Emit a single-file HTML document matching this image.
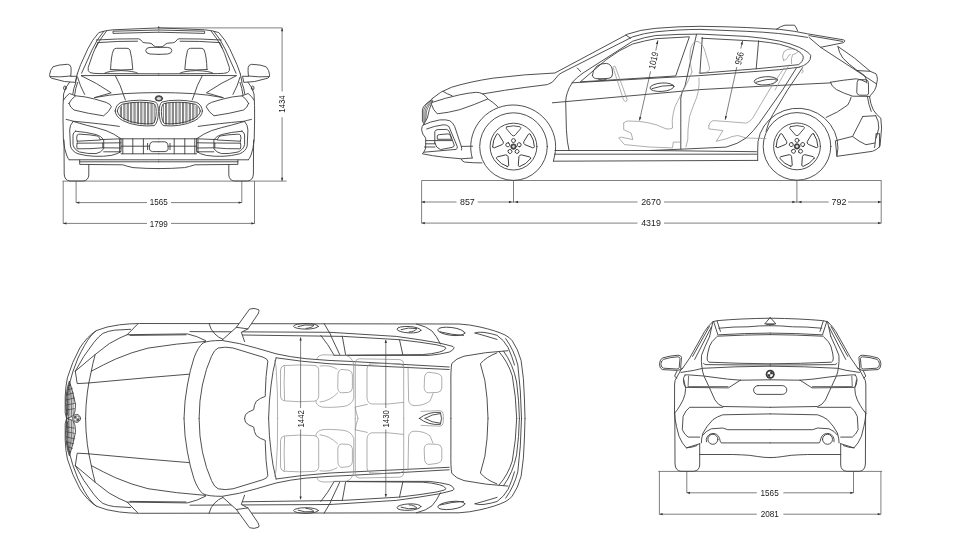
<!DOCTYPE html>
<html><head><meta charset="utf-8"><title>Dimensions</title>
<style>
html,body{margin:0;padding:0;background:#fff;}
body{width:967px;height:546px;overflow:hidden;font-family:"Liberation Sans",sans-serif;}
svg{display:block;will-change:transform;-webkit-font-smoothing:antialiased}
.l{fill:none;stroke:#3c3c3c;stroke-width:.9;stroke-linecap:round;stroke-linejoin:round}
.t{fill:none;stroke:#333;stroke-width:.65;stroke-linecap:round;stroke-linejoin:round}
.g{fill:none;stroke:#8c8c8c;stroke-width:.7;stroke-linecap:round;stroke-linejoin:round}
.d{fill:none;stroke:#4a4a4a;stroke-width:.7}
.a{fill:#333;stroke:none}
text{font-family:"Liberation Sans",sans-serif;font-size:9.3px;fill:#222;text-anchor:middle}
</style></head><body>
<svg width="967" height="546" viewBox="0 0 967 546">
<rect width="967" height="546" fill="#fff"/>
<defs>
<!-- ===== FRONT VIEW left half (mirrored about x=158.8) ===== -->
<g id="fh">
<path class="l" d="M158.8 27.9 L113 29.8 Q105 30.4 98.8 32.6 Q92 40 88 48.5 L80.6 64.7 L77.3 73.8"/>
<path class="l" d="M103.7 31.4 Q97 39 92 50 L81.6 73.2"/>
<path class="l" d="M106.5 31 Q100 39 95.5 48"/>
<path class="l" d="M158.8 30 L113 31.2 L113 33.4 L158.8 32.2"/>
<path class="l" d="M96.3 40 Q118 38.6 138.6 38.8 Q140.5 39 141.5 41 Q142.5 42.6 145 42.8 L150 43.2 Q152.5 43.6 153.2 45.4 Q154.5 47 158.8 47"/>
<path class="l" d="M97.8 42.6 Q118 41 137.5 41.2 M97.8 42.6 Q93 52 88.2 67.5 Q87.5 71.5 90 72.6 Q93 73.6 100 73.6 L158.8 73.8"/>
<path class="l" d="M158.8 47.3 L150 47.4 Q146 47.6 145.7 50.5 Q146 53.6 150 54 L158.8 54.4"/>
<path class="l" d="M110.6 69.5 Q111 56 113.5 50 Q114 48.4 116.5 48.3 L127 48.3 Q129.3 48.4 130 50.2 Q132 57 132.8 69.5 Q122 70.4 110.6 69.5Z"/>
<path class="l" d="M104.6 73.2 Q108 71 121 70.6 Q134 71 137.7 73.2"/>
<path class="l" d="M81.4 75.6 L158.8 75.4"/>
<!-- body side -->
<path class="l" d="M77.3 73.8 L75.6 82.2 M69.6 82.2 Q64.6 88 63.6 94 Q62.8 104 63 120 L63.4 140 Q64.5 150 66.6 155 Q68 159 69.2 159.8"/>
<ellipse class="l" cx="64.9" cy="88" rx="1.3" ry="2"/>
<path class="l" d="M75.8 82.6 Q73.5 88 72.8 94 M77.6 82.4 Q75.5 88 74.6 95"/>
<path class="l" d="M77.5 77 Q80 86 84.6 94.4"/>
<!-- hood -->
<path class="l" d="M81.4 75.8 Q97 83 111.2 92.8 L94.6 97.6"/>
<path class="l" d="M115.3 75.6 Q121 86 123 93.5 L125.4 100"/>
<path class="l" d="M94.6 97.6 Q110 94.6 125 93.6 Q142 92.6 158.8 92.6"/>
<!-- headlight -->
<path class="l" d="M69 103.4 Q71 99 75.6 95.8 Q85 96.4 94.6 99 L106.2 102.4 Q111 104.4 111.4 106.8 Q109 112 103.6 115.8 Q88 113.6 74 110 Q70 107.5 69 103.4Z"/>
<path class="l" d="M63.6 100 Q66 96 69.5 93.5 L75.6 95.8"/>
<!-- kidney grille -->
<path class="l" d="M115.2 111 Q115.6 105 121 102.4 Q130 100.2 139.5 100.2 Q150 100.2 155.6 102 Q158.4 104 158.4 111.5 Q158.4 122 154.4 125.6 Q147 126.4 139 125.4 Q129 124 122.8 120.6 Q115.4 116.5 115.2 111Z"/>
<path class="l" d="M117.4 111 Q117.8 106.4 122.4 104.2 Q130 102.2 139.5 102.2 Q149.5 102.2 154 103.6 Q156.2 105.4 156.2 111.5 Q156.2 120.4 153.2 123.6 Q147 124.3 139.4 123.4 Q130 122.2 124.2 119 Q117.6 115.6 117.4 111Z"/>
<path class="t" d="M120.4 107 V116.5 M121.5 106 V117.5 M123.8 104.5 V119.4 M124.9 104.2 V120 M127.2 103.6 V121 M128.3 103.4 V121.4 M130.6 103 V122.2 M131.7 102.9 V122.5 M134 102.7 V123 M135.1 102.6 V123.2 M137.4 102.5 V123.6 M138.5 102.5 V123.7 M140.8 102.5 V124 M141.9 102.5 V124 M144.2 102.6 V124.2 M145.3 102.6 V124.3 M147.6 102.8 V124.3 M148.7 102.9 V124.3 M151 103.2 V124.2 M152.1 103.4 V124 M154.2 104.4 V122.6"/>
<!-- bumper -->
<path class="l" d="M66.2 119.4 Q70 120.2 73.1 121.2 Q100 123.6 119.4 126.4"/>
<path class="l" d="M73.1 121.4 Q69.6 125 69.7 130 L70.4 146 Q72 151.5 78 153.8 Q86 156 94.6 156.3 Q104 156.6 111.2 155.4 Q118 154 121 151.4 L121 138.8 Q114 133.6 106 130.6 Q96 127.4 86.4 125.2 Q79 123.2 73.1 121.4"/>
<path class="l" d="M75.6 131.2 Q73 132.6 73 135 L73 144.6 Q74 149.6 79.6 152 Q88 154 96 153.6 Q101 152.6 103.7 148.8 L103.7 139.7 Q101 136 96.3 134.6 Q86 132 75.6 131.2Z"/>
<path class="l" d="M77.2 141.2 Q76 138 77.2 135 Q78 134 80 134.2 Q90 134.6 97.6 136 Q100 138 100.4 140 L77.2 141.2Z"/>
<path class="l" d="M77.2 143.2 L102.8 143 L102.8 147.8 Q92 149 77.2 148.8 Q76.2 146 77.2 143.2Z"/>
<path class="l" d="M100.4 139.6 L121 138.8 M102.8 143 L121 142.8 M102.8 147.8 L121 148 M103.7 151.8 L121 151.8"/>
<path class="l" d="M121 138.8 H158.8 M121 146.2 H149.4 M121 153.8 H158.8 M122.8 138.8 V153.8 M132.8 138.8 V153.8 M143.4 138.8 V153.8 M119.6 139 V152.6"/>
<path class="l" d="M158.8 141.8 H152.6 Q150.2 142.2 149.8 144.6 L149.4 149 Q149.8 151.2 152.4 151.6 H158.8 M147.6 143.4 V149.6"/>
<path class="l" d="M69.2 159.8 H158.8"/>
<path class="l" d="M79.7 160 V164.4 L122.8 164.8 Q128 166.6 133 167.6 Q146 168.6 158.8 168.6 M79.7 161.8 H158.8"/>
<!-- wheel -->
<path class="l" d="M64 140 L64.2 174 Q64.6 180.6 70 181 L83 181 Q88.4 180.6 88.8 175 L88.8 164.6"/>
</g>
</defs>

<!-- FRONT VIEW -->
<defs><g id="fm">
<path class="l" d="M70.8 76 Q71.4 70 71 67.4 Q70.5 64.5 67.5 64.3 Q58 64.6 53 66.8 Q50 70 49.6 74.8 Q49.4 77.4 51.5 78.2 L64.5 81.5 L75.4 82.4 L76.6 76.6 Z"/>
<path class="l" d="M50.4 76.6 Q60 77.4 70.8 76"/>
</g>
</defs>
<use href="#fm"/>
<use href="#fm" transform="translate(319.2,0) scale(-1,1)"/>
<use href="#fh"/>
<use href="#fh" transform="translate(317.6,0) scale(-1,1)"/>
<path class="l" d="M158.2 27.8 L158.6 26.6 L159.2 27.8"/>
<ellipse class="l" cx="158.9" cy="98.4" rx="3.7" ry="2.7" style="fill:#555"/>
<ellipse cx="158.9" cy="98.4" rx="2.2" ry="1.5" fill="#ddd"/>

<!-- front dims -->
<path class="d" d="M62.6 181.1 H286.6 M63.2 181.1 V223.6 M254.5 181.1 V223.6 M76.1 181.1 V202.6 M241.8 181.1 V202.6"/>
<path class="d" d="M76.1 202.6 H147 M171 202.6 H241.8 M63.2 223.4 H147 M171 223.4 H254.6"/>
<path class="d" d="M159 27.9 H282.4 M282.1 28 V91.5 M282.1 117.3 V181"/>
<path class="a" d="M76.1 202.6 l3.2 -1.15 v2.3z M241.8 202.6 l-3.2 -1.15 v2.3z M63.2 223.4 l3.2 -1.15 v2.3z M254.5 223.4 l-3.2 -1.15 v2.3z M282.1 28 l-1.15 3.2 h2.3z M282.1 181 l-1.15 -3.2 h2.3z"/>
<text transform="translate(158.8,205) scale(.87,1)">1565</text>
<text transform="translate(158.8,227) scale(.87,1)">1799</text>
<text x="0" y="0" transform="translate(285.4,104) rotate(-90) scale(.84,1)">1434</text>

<!-- ===== SIDE VIEW ===== -->
<defs>
<g id="wh">
<circle class="l" r="33.8"/><circle class="l" r="23.4"/>
<circle class="l" r="2.7" style="fill:#444"/><circle r="1.3" fill="#ddd"/>
<g id="sp"><path class="l" d="M-6.6 -19.8 Q0 -21.8 6.6 -19.8 Q7.8 -19.2 7.1 -17.9 L1.5 -11.3 Q0 -10.2 -1.5 -11.3 L-7.1 -17.9 Q-7.8 -19.2 -6.6 -19.8Z"/><circle class="l" cy="-6" r="2"/></g>
<use href="#sp" transform="rotate(72)"/><use href="#sp" transform="rotate(144)"/><use href="#sp" transform="rotate(216)"/><use href="#sp" transform="rotate(288)"/>
</g>
</defs>
<use href="#wh" transform="translate(513.5,146.6)"/>
<use href="#wh" transform="translate(797,146.4)"/>
<!-- arches -->
<path class="l" d="M472.2 158 A42.5 41.8 0 1 1 554.6 156 L553.4 161"/>
<path class="l" d="M757.7 160.2 V150 A40.2 39 0 1 1 836.9 156.3"/>
<!-- hood / roof outer -->
<path class="l" d="M431.8 98.8 Q440 91.4 451.4 87.3 Q470 81.6 492.8 78.2 Q525 74.2 554.9 73 L627.7 34.1 Q640 29.6 655.9 28.3 Q680 26.3 700 26.3 Q725 26.6 746.2 27.5 L779.3 29.3 Q795 31 807.5 33.8 L843.7 39.9 Q845.4 40.6 844.6 41.6 L842.9 42.8 L820.6 47.3"/>
<path class="l" d="M482.8 93.9 Q505 90 525.9 87.3 L547.4 84.6 Q553 83 556 78 Q558.5 74 562 72.6 L632.7 36.8 Q645 33 655.9 31.8 Q680 29.4 700 29.4 L746.2 31.3 Q780 32.6 807.5 37.4"/>
<path class="l" d="M572.3 82.4 Q577 77 583 73 L632.7 41.2 Q645 37 655.9 35.5 Q680 34 700 34.1 L746.2 36.4 Q765 38 779.3 41 Q791 43.6 799.2 47.3 Q809 52 810.8 55.6 Q811 60 807.5 63 Q804 66 799.2 67.2"/>
<path class="l" d="M577.3 68 L580.6 71.6 M625.8 35 L630.5 38.2"/>
<path class="l" d="M809 35.6 L842.6 41.4"/>
<!-- antenna -->
<path class="l" d="M776.4 29.2 Q781 26 785 25.2 L794.6 25.2 Q796.4 27.6 797.6 30.8"/>
<!-- front window -->
<path class="l" d="M580.6 81.6 L606.2 59.7 Q620 49.4 632.7 44 Q645 40.6 655.9 38.7 L689.4 36.8 L675.8 75.6 Z"/>
<path class="l" d="M572.3 82.8 L700 75.6 L779.3 69.7 L799.2 67.2"/>
<path class="l" d="M696.5 34.4 L685 86 Q681.4 92 680.8 98 L680.8 149.2"/>
<path class="l" d="M702.3 37.4 L699.9 73.2"/>
<!-- rear window -->
<path class="l" d="M701.6 38.2 L757.8 41.2 Q770 42.4 779.3 44.2 Q790 47 795.9 49.8 Q803 53.6 803.3 57.2 Q803 62 798.4 64.7 L756.2 68.8 L700 73.3"/>
<path class="l" d="M758.6 40.8 L756.2 68.8"/>
<!-- mirror -->
<path class="l" d="M592.4 75.6 Q592.4 70 597 66 Q601 63.2 606.4 63.4 Q611 64 612.2 69 Q613.4 74.6 611.6 77 Q610 78.8 604 78.6 L598 78.8 Q593 78.8 592.4 75.6Z"/>
<path class="l" d="M598 78.8 Q600 80.6 606 79.6"/>
<!-- door front edge -->
<path class="l" d="M572.3 82.6 Q568.6 88 567.3 92.8 Q565.8 97 565.7 101.5 L566.4 129.7 Q567 142 569 150.4"/>
<!-- door bottom, rear door edge -->
<path class="l" d="M555 150.5 L650 150.5 L680.8 149.2 L726.2 147.1 Q738 144 746.1 138 Q754 130.6 759.3 123.1 L782.5 90 L796.4 68"/>
<path class="l" d="M802.6 67.6 L787.5 90 L772.6 114.8 Q768 123 766 131.4"/>
<!-- sill -->
<path class="l" d="M554.6 154.2 H756.6 M553.4 161.2 L757.7 160.4 M650 150.5 L756.4 151.7"/>
<!-- character line -->
<path class="l" d="M552.4 102.8 L700 89.6 L762.8 86.2 L830.5 82.9"/>
<!-- handles -->
<ellipse class="l" cx="662" cy="87.2" rx="12" ry="4.2" transform="rotate(-4 662 87.2)"/>
<path class="l" d="M652 88.6 Q662 85 673.4 85.4"/>
<ellipse class="l" cx="765.8" cy="80.8" rx="11.6" ry="4.1" transform="rotate(-4 765.8 80.8)"/>
<path class="l" d="M756 82.2 Q766 78.6 777 79"/>
<!-- headlight side -->
<path class="l" d="M432.2 102.4 Q445 98 459.7 94.8 Q468 93 476.2 92.3 Q480 92.4 482.8 93.9 Q486 96 487.8 98.9 Q475 104.6 459.7 109.7 Q448 112.8 437.3 113.8 Q433 110 431.6 104.8"/>
<path class="l" d="M443.1 91.4 Q447 94 452.2 95.8"/>
<path class="l" d="M487.8 98.9 Q493 102 497.7 106.6"/>
<!-- kidney side -->
<path class="l" d="M432.4 98.9 L426 104 Q422.6 107 422.4 110 L422.4 121.3 L424 123.8 L427.4 117.9 Q428.6 110 432.6 100.6"/>
<path class="t" d="M430.6 100.4 Q424.4 106 423.8 110 L423.8 122 M431.4 100.6 Q425.8 107 425.2 111 L424.8 122 M432 101 Q427 108 426.4 112 L425.8 120"/>
<!-- front bumper -->
<path class="l" d="M424 123.8 Q421.4 126 421.6 129.8 Q422 134 425.7 138.1 L425.7 148 Q424.6 151.6 422.4 153.8 Q432 155.8 443.1 157.1 L461.3 158.8 L472.2 158"/>
<path class="l" d="M461.3 159.2 Q462 161.4 464.6 162.1 Q474 163 482 162.9"/>
<path class="l" d="M423.2 125 Q430 121.6 439.8 119.9 Q446 119.4 449.7 120.7 Q453 122.6 454.7 126.5 L461.3 146.4 Q462 148.6 461.6 150"/>
<path class="l" d="M426.6 129 Q434 126 443.1 124.8 Q447 124.6 448.9 126.5 L457.2 146.4 Q457.8 148.8 456 149.4 L424 152.2"/>
<path class="l" d="M434.8 143 L434.8 131.6 Q435.4 129.6 438 129.6 L446.6 129.4 Q448.6 129.8 449.4 132 L454.2 145 Q454.6 146.8 452 147.4 L440.4 149.6 Q436 148 434.8 143Z"/>
<path class="l" d="M437.3 138.9 L437.3 136 Q437.6 134.6 439.6 134.6 L448 133.9 Q450 134 450.6 136 L451.4 138.9 Z"/>
<path class="l" d="M426 140.6 H452 M425.8 143.8 H435 M424.4 147 H435 M461.3 146.4 L472.6 146.2"/>
<!-- rear -->
<path class="l" d="M837.9 46.5 Q846 52 854.5 58.1 L870.2 71.3 L876 73.8 Q877.6 77 877.4 79.6 L876 87 Q874.6 91 872.7 92.8 Q870 95.4 869.6 97"/>
<path class="l" d="M837.9 46.6 Q839 53 842.9 58.1 Q849 64.6 856.2 69.7 Q861 72.8 864.4 75.5 Q866.8 79 866.9 82.9"/>
<path class="l" d="M809 37.4 L820.6 47.3 L856.2 70.5 L870.2 71.3"/>
<path class="l" d="M856.2 70.5 L866.1 77.1 L876.6 84"/>
<!-- taillight -->
<path class="l" d="M830.5 82.2 Q843 80 856.2 78.8 Q862 79.6 866.1 82.1 M830.5 82.2 Q831 86 836.3 89.5 Q844 93.6 852.8 96.2 L869.4 96.4"/>
<path class="l" d="M857.2 82 Q857.4 79.8 859.4 79.6 L866.4 79.8 Q868.2 80.4 868.4 82.6 L868.6 93 Q868.4 95.2 866.4 95.2 L859.4 95.2 Q857.2 95 856.8 92.6 Z"/>
<path class="l" d="M851.2 97 Q850 101.6 847.7 105 Q838 112.6 826.2 117.4"/>
<!-- rear bumper -->
<path class="l" d="M869.6 97 Q870.4 104 873.3 109.9 Q876 114.4 880.8 118.2 L881.6 128.1 L880 146.3 Q877 149.8 872.5 151.3 L836.9 156.3 L835.4 141"/>
<path class="l" d="M867.4 96.6 Q868.6 105 871.2 111.4"/>
<path class="l" d="M862.6 116.5 L875.8 115.7 M862.6 116.8 L852.6 136.4 L836 140.6 M852.6 136.6 Q859 141.6 865.9 144.7 L875 143"/>
<path class="l" d="M876 134 L879.6 133.6 L879.4 147 M876.2 134 L874.6 147.6"/>
<path class="l" d="M875.8 115.8 Q879 121 878.8 128 L876.2 138"/>
<!-- seats (gray) -->
<path class="g" d="M623.7 123 Q625 121.2 627.8 121 L639.4 121.4 Q648 122.4 656 124.7 L665.9 128.8 Q670 129.6 672.5 128 Q671.6 120 673.3 113.1 Q674.6 106 677.5 101.5 L682.5 91.6 Q688 82 692 72"/>
<path class="g" d="M623.7 123 L623.7 129.7 L631.1 133 L632.8 139.6 L621.2 137.1 L618.7 137.9 L624.5 144.6 L649.3 147 L672.5 147.9 L673.3 142.1 L680.8 142.1"/>
<path class="g" d="M692 72 Q689 60 690.4 50 Q692 41.6 697 41.4 Q702 42 704.6 50 Q707.6 60 709.6 68 Q710 71.6 705 72.6 L699 73"/>
<path class="g" d="M699 78 Q700 92 694 104 Q688 116 688 130 Q688.6 140 686 147"/>
<path class="g" d="M708.8 125.6 Q710 121.4 713 120.6 L726.2 121.5 L746.1 123.1 Q750 122 752.7 118.1 L769.3 90"/>
<path class="g" d="M708.8 125.6 L708.8 128.9 L722.9 130.6 L716.3 141.3 L726.2 138.8 Q732 136 737.8 135.5 L746.1 138 L766 138.6"/>
<path class="g" d="M769.3 90 L784 68"/>
<path class="g" d="M783.4 60.4 Q781.4 56 784 51.6 Q787 48.6 792 48.8 Q797 49 798 51.6 Q797 54 792.6 54.6 Q791 58 791.4 63.6 M783.4 60.4 Q786 60.8 787.6 57.6 Q788.4 54.6 790.4 54.4"/>
<path class="g" d="M789 65 L775 90 M802 69.6 Q803.6 70 803 72 L801.6 73"/>
<path class="g" d="M613.2 66.8 Q614.2 65.6 615.2 66.4 L627.2 99.6 Q627 101.6 625.4 101.4 Q624 101 623.6 100 Z"/>
<!-- interior dims -->
<path class="d" d="M657.9 40.4 L655.8 50.6 M650.6 71.3 L639.5 120.4 M742.6 40.9 L740.8 48.6 M736.8 67 L725.2 119.6"/>
<path class="a" d="M657.9 40.2 l-2 3.6 2.1 .5z M639.4 120.8 l2 -3.6 -2.1 -.5z M742.6 40.7 l-2 3.6 2.1 .5z M725.1 120 l2 -3.6 -2.1 -.5z"/>
<text transform="translate(656.6,61.3) rotate(-77) scale(.84,1)">1019</text>
<text transform="translate(742.5,59) rotate(-77.5) scale(.84,1)">956</text>
<!-- side dims -->
<path class="d" d="M421.6 180.5 H881.5 M421.6 180.5 V223.4 M881.2 180.5 V223.4 M513.5 180.5 V202.6 M796.9 180.5 V202.6"/>
<path class="d" d="M421.6 202 H456.5 M477.7 202 H637.5 M664 202 H828.7 M848.1 202 H881.2 M421.6 223.1 H637.5 M664 223.1 H881.2"/>
<path class="a" d="M421.6 202 l3.2 -1.15 v2.3z M512.1 202 l-3.2 -1.15 v2.3z M514.9 202 l3.2 -1.15 v2.3z M795.5 202 l-3.2 -1.15 v2.3z M798.3 202 l3.2 -1.15 v2.3z M881.2 202 l-3.2 -1.15 v2.3z M421.6 223.1 l3.2 -1.15 v2.3z M881.2 223.1 l-3.2 -1.15 v2.3z"/>
<text transform="translate(467.4,205) scale(.95,1)">857</text>
<text transform="translate(651,205) scale(.95,1)">2670</text>
<text transform="translate(838.9,205) scale(.96,1)">792</text>
<text transform="translate(651,226) scale(.95,1)">4319</text>

<!-- ===== TOP VIEW (upper half mirrored about y=418.4) ===== -->
<defs>
<g id="th">
<path class="l" d="M66.6 418.4 L65.2 413 L65.2 396.6 Q65.6 386 67.4 377.8 Q72 362 79.8 348 Q87 336.6 96.4 330.6 Q106 326.4 119.5 324.8 Q130 323.6 139.4 323.5 L459.1 324 Q470 324.6 480 327 Q496 330.6 505 335 Q510 337.6 512.3 340.8 Q518 349 521.1 360.5 Q524 378 524.4 397.9 L525 418.4"/>
<path class="l" d="M68.6 418.4 L67 412 L67 397 Q67.6 390 68.9 386 Q72 372 78 358 Q84.9 343.6 90 337 Q93 333 96.4 330.6"/>
<!-- headlight -->
<path class="l" d="M75.3 371.2 Q83 356 93.9 342.4 Q99 336 102.9 333.4 Q108 331 114.4 330.2 L130.6 329.3"/>
<path class="l" d="M75.3 371.2 L95.2 354.5 L109.3 343.6 Q120 337.4 127.2 334.7 L137.5 324.2"/>
<path class="l" d="M95.2 354.5 Q92.6 364 91.3 371.2 Q88.4 384 87.4 392 Q85.6 406 85.6 418.4"/>
<path class="l" d="M75.3 371.2 L77.2 383.6 L88.4 383"/>
<!-- hood -->
<path class="l" d="M127.2 334.7 L187.4 333.9 Q197 336 205.6 340.6 M130 335.4 L186 334.8"/>
<path class="l" d="M91.3 371.2 Q104 364.4 115.7 359 Q132 352 148 348.1 Q176 343.6 205.6 341.4"/>
<path class="l" d="M88.4 383 L148 377.6 L189 374.2"/>
<!-- kidney -->
<path class="l" d="M66.6 418.4 Q66.6 412 65.8 404 Q66 390 69.4 381 Q73 392 75.4 404 Q75.8 414 72 416.6 Q69 417.6 66.6 418.4"/>
<path class="t" d="M67.4 414 Q67 396 69.6 384.6 M68.6 415.6 Q68 398 70.2 386.6 M70 416.4 Q69.4 400 71 389 M71.6 416.2 Q71 402 72 392 M73.2 415 Q72.8 404 73.2 396 M66.4 410 L74.6 408.6 M66.2 405 L75 403.4 M66.2 400 L74.4 398 M66.6 395 L73.6 393 M67.4 390 L72.4 388.4 M68.4 385.6 L70.6 385"/>
<!-- cowl / A pillar / roof rail -->
<path class="l" d="M184 418.4 Q184.4 400 187.4 385 Q190 370 194 357.9 Q198 347 203 343 Q208 340.4 222.3 340.5 Q240 343 256.2 348 L276.1 353.8 Q290 357 305.9 358.7 Q330 360.8 350 361.4 L449.2 367"/>
<path class="l" d="M276.1 357.8 Q300 361.6 330 363.8 L449.2 369.5"/>
<!-- windshield glass -->
<path class="l" d="M199.1 418.4 Q199.2 400 202.4 385 Q206 368 211.5 356.3 Q214.4 349.4 218.1 348 Q225 346.4 233 348 L262.8 357.1 Q267.6 358.6 267.8 361.2 Q265.6 376 265.3 393.1 L265.3 396.4 Q260 398 256.2 401.4 Q254 405 253.7 409.7 Q248 411.6 245.5 414.6 L244.6 418.4"/>
<path class="l" d="M276.1 357.9 Q272.4 372 271.1 385 Q269 400 268.6 418.4"/>
<!-- fender seam, door lines -->
<path class="l" d="M209 323.6 Q210.6 330 214.8 333.9 Q218 337.4 223 339.4"/>
<path class="l" d="M190 331.6 L330 332.3 L396.2 336.4 Q420 339.6 439.3 343 L449 345.4 Q454.4 346.4 454.2 347.8 Q453 350.6 449.2 352.1 Q440 354.4 429.3 355.4 L334 355.4"/>
<path class="l" d="M241.3 335 L343.2 336.4 L399.5 339.7 Q420 342 436 344.7 L443 346.4 Q446.2 347.2 445.9 348.4 Q444 351 439.3 352.1 Q432 354 422.7 354.6 L346.6 355.2"/>
<path class="l" d="M399.5 339.7 L402.8 354.6"/>
<path class="l" d="M324.1 323.6 L330.7 334.7 M320.8 335.4 Q328 344 334 355 M330.7 335.4 L339.8 354.8 M342.3 336.2 L345.6 354.8"/>
<!-- handles -->
<ellipse class="l" cx="306" cy="326.3" rx="12.4" ry="2.8"/>
<path class="l" d="M298 326.6 Q304 324 314 325.2 Q312 328 306 328.4"/>
<ellipse class="l" cx="409" cy="329.7" rx="12" ry="3.2" transform="rotate(3 409 329.7)"/>
<path class="l" d="M401 329.6 Q408 327 417 328.6 Q415 331.6 409 332"/>
<ellipse class="l" cx="451.3" cy="331.4" rx="13.6" ry="3.9" transform="rotate(7 451.3 331.4)"/>
<path class="l" d="M440 331.8 Q452 335 463.6 335.4"/>
<path class="l" d="M475 333 Q478 331.6 484 332.4 Q492 333.6 497 335.3 Q504 340 508 347.4 Q512 356 514.5 365 M475 333 Q486 336 497 339.4"/>
<path class="l" d="M416.5 324 Q427 326.6 432 331 Q436.6 336 440.4 344"/>
<!-- rear window -->
<path class="l" d="M450.9 418.4 L450.9 385 Q450.6 370 451.8 363.4 Q456 358.4 464 356.2 Q485 352 507.9 350.7"/>
<path class="l" d="M496.9 352.9 Q486 357 480.4 363.8 Q486 380 487 397.9 L488 418.4"/>
<path class="l" d="M499.1 351.8 Q508 362 512.3 375.9 Q516 396 516.7 418.4"/>
<path class="l" d="M503.6 351.2 Q513 364 516.6 382 Q519 400 519.4 418.4"/>
<path class="l" d="M505.7 338.6 Q514 350 517.8 364.9 Q521 390 521.5 418.4"/>
<!-- interior gray -->
<path class="g" d="M274.7 360.6 L276 366 Q278 392 277.6 418.4"/>
<path class="g" d="M284 365.6 Q300 364.4 314 365.4 Q318.6 366 318.7 370 L318.7 396 Q318.4 400.6 314 401.2 Q298 402.4 284 400.8 Q280.6 400 280.5 396 L280.5 370 Q280.8 366 284 365.6Z"/>
<path class="g" d="M284.6 367 Q283.6 384 284.6 400"/>
<path class="g" d="M317 358.6 Q318 355 324 354.8 L346 355.4 Q352 357 353.6 364 L353.8 398 Q352 405 344 406.4 Q330 408 322 407 Q316 405.6 315.8 401"/>
<path class="g" d="M338 374 Q338.4 369.6 342 369.4 L349 370.2 Q352.4 371.4 352.4 375 L352.4 388 Q352 392 348.4 392.4 L341.6 392.8 Q338 392.4 337.8 388Z"/>
<path class="g" d="M320 366 Q330 364.6 337 369 M320 402 Q330 401 337.6 393"/>
<path class="g" d="M355.3 418.4 L355.3 362.6 Q355.6 359 359 358.8 L400 359.6 Q403.6 360 403.7 364 L403.7 418.4"/>
<path class="g" d="M370 364 Q386 362.6 400 363.8 L403.6 366 M370 364 Q367 365 367 369 L367 398 Q367.6 403.6 372 404 Q388 404.8 403.6 402.4"/>
<path class="g" d="M355.3 407 L367.4 404.4 M355.3 407.4 Q356 412 358 418.4"/>
<path class="g" d="M408 366.6 L408.6 400 Q409 405 414 405.6 Q424 405.8 430 401 L433 393.6"/>
<path class="g" d="M424.6 377 Q425 372.6 429 372.3 L437 373.4 Q441.6 374.6 441.8 378 L441.8 388 Q441.4 392 437.6 392.4 L428.4 392.8 Q424.4 392.4 424.2 388Z"/>
<path class="g" d="M421 411.4 L440 410.6 Q443 411 443.2 414 L443.3 418.4"/>
<!-- mirror (top view) -->
<path d="M223 339.6 L236.4 327.3 L249.6 309.1 Q254 307.4 258.7 309.7 Q259.6 311 258 314 L247.9 328.9 L241.3 332.3 L244.4 341 Z" fill="#fff" stroke="none"/>
<path class="l" d="M222.3 339.9 L236.4 327.3 L249.6 309.1 Q254 307.4 258.7 309.7 Q259.6 311 258 314 L247.9 328.9 L241.3 332.3 L244.6 341.6"/>
<path class="l" d="M236.4 327.3 L247.9 328.9"/>
</g>
</defs>
<use href="#th"/>
<use href="#th" transform="translate(0,836.8) scale(1,-1)"/>
<path class="l" d="M419.4 418.4 Q428 411.4 440.4 412.4 Q442.6 418.4 440.4 424.4 Q428 425.4 419.4 418.4Z"/>
<path class="l" d="M425 418.4 Q432 414 440 413.6 M425 418.4 Q432 422.8 440 423.2"/>
<circle class="l" cx="76.5" cy="418.4" r="4" style="fill:#fff"/>
<circle cx="76.5" cy="418.4" r="3" fill="#555"/><path d="M76.5 415.9 A2.5 2.5 0 0 1 79 418.4 H76.5Z M76.5 420.9 A2.5 2.5 0 0 1 74 418.4 H76.5Z" fill="#eee"/>
<!-- top dims -->
<path class="d" d="M300.6 337.4 V408 M300.6 429.5 V499.4 M385.8 339.9 V408 M385.8 429.5 V496.9"/>
<path class="a" d="M300.6 337.2 l-1.15 3.2 h2.3z M300.6 499.6 l-1.15 -3.2 h2.3z M385.8 339.7 l-1.15 3.2 h2.3z M385.8 497.1 l-1.15 -3.2 h2.3z"/>
<text transform="translate(304,418.8) rotate(-90) scale(.84,1)">1442</text>
<text transform="translate(389.2,418.8) rotate(-90) scale(.84,1)">1430</text>

<!-- ===== REAR VIEW (left half mirrored about x=770.2) ===== -->
<defs>
<g id="rh">
<path class="l" d="M770.2 318.2 Q740 318.6 718 320.6 L712.9 321.6 Q708 326 704.6 331.5 L689.7 358 L682.3 368.7"/>
<path class="l" d="M709.4 326.4 L692.6 356.4 M711.4 327 L694.7 359.4"/>
<path class="l" d="M713.7 321.8 L717.9 334.8 M717.1 321 L720.4 331.4 M712.9 321.6 L709.6 336.5"/>
<path class="l" d="M718.7 328.2 Q735 326.6 748 326.8 Q760 325.6 770.2 325.7"/>
<path class="l" d="M718.7 334.8 Q745 333.2 770.2 333.1 M717 336.2 Q745 334.8 770.2 334.6"/>
<path class="l" d="M716.2 337.3 Q711 342 709.6 346 Q707.2 354 707.1 358 Q707 361.4 709 362.2 Q740 363.6 770.2 363.8"/>
<path class="l" d="M709.6 336.5 Q704.6 347 701.5 355.3 Q701 361 702 367.8 Q702.6 372 703.8 375.6 L708.8 386.4 L715 400 Q718 405 722.8 406.5 L770.2 407.3"/>
<path class="l" d="M703.4 363.4 Q704 364.4 706 364.6 Q740 365 770.2 365"/>
<path class="l" d="M680.9 372.4 Q688 371.4 694.3 370.3 L702.6 368.3 Q735 366.4 770.2 366.2"/>
<path class="l" d="M740.3 380.2 L770.2 379.8"/>
<!-- taillight -->
<path class="l" d="M685 375 Q683.2 377.6 683.4 380.2 Q683.6 385.6 686 387.4 L728.4 387.9 L740.3 380.2"/>
<path class="l" d="M685 375 Q687 374.6 690.2 375 L703.6 376 L727.4 379.1 L740.3 380.2"/>
<path class="l" d="M688.6 376 L688.1 386.4 L728 386.6" style="stroke-width:1.1;stroke:#777"/>
<!-- mirror -->
<path class="l" d="M659.6 363 Q660 359.4 662.4 358 Q670 355.6 678.1 355.2 Q681 355.4 681.5 357.2 L680.6 368.7 Q680 370.4 677.3 370.4 L662.4 369.6 Q659.8 368.6 659.6 365.4Z"/>
<path class="l" d="M661 363.4 Q661.4 360.4 663.4 359.4 Q670 357.2 677.8 356.8 Q679.8 357 680 358.6 L679.2 367.6 Q678.8 369 676.8 369 L663.6 368.2 Q661.2 367.4 661 365Z"/>
<path class="l" d="M681.5 368.7 L676.5 377.8 M680.4 370.4 L682.6 368 M677 371 L674.6 376 L676.4 378"/>
<!-- body side -->
<path class="l" d="M676.5 377.8 Q674.6 380 674.6 384 L674.5 413.1 Q675 420 676.5 426.4 L679 436.3 Q682 443.6 686.4 447.9 L699.7 443.7"/>
<path class="l" d="M683.9 380 L685.6 388.3 Q685.6 394.6 683.1 399.9 Q680 406 677.3 409.8 L674.8 413"/>
<!-- bumper -->
<path class="l" d="M722.8 407.3 L689.7 407.3 Q685.6 410 683.1 416.4 L682.3 429.7 Q684.4 434.6 688.1 437.1 L699.7 437.1"/>
<path class="l" d="M770.2 413.9 L722.8 414.8 Q717 416.6 712.9 419.7 Q706.6 426 703 433 Q701.4 438 701.3 442.9"/>
<path class="l" d="M703 435 Q705.6 431 711.3 428.8 L722.8 428 L727.8 429.7 L770.2 429.7"/>
<circle class="l" cx="712.9" cy="439.3" r="5"/>
<path class="l" d="M706.4 441.8 A6.7 6.7 0 0 1 719.6 438.6 Q720 441.6 721.2 442.9 L770.2 442.9"/>
<path class="l" d="M699.7 454.5 L732.8 454.5 Q742 454.8 749.3 455.3 L757.6 456.5 Q764 457.6 770.2 457.6"/>
<path class="l" d="M686.4 447.9 Q692 447.6 697 445.6"/>
<!-- wheel -->
<path class="l" d="M674.8 413 L675 464 Q675.4 470.8 681 471.3 L693.6 471.3 Q699.4 470.8 699.7 465 L699.7 443.7"/>
</g>
</defs>
<use href="#rh"/>
<use href="#rh" transform="translate(1540.4,0) scale(-1,1)"/>
<path class="l" d="M765 323.6 L770.2 317.4 L775.6 323.6Z M766.6 324.4 H774"/>
<circle cx="770.2" cy="374.2" r="4.5" fill="#3a3a3a"/><circle cx="770.2" cy="374.2" r="2.8" fill="#fff"/>
<path d="M770.2 371.4 A2.8 2.8 0 0 1 773 374.2 H770.2Z M770.2 377 A2.8 2.8 0 0 1 767.4 374.2 H770.2Z" fill="#3a3a3a"/>
<rect class="l" x="753.6" y="385.6" width="33.2" height="8.8" rx="4.4"/>
<!-- rear dims -->
<path class="d" d="M658.3 471.4 H882.1 M659.4 471.4 V514.4 M880.9 471.4 V514.4 M686.8 471.4 V492.9 M853.5 471.4 V492.9"/>
<path class="d" d="M686.8 492.8 H756.8 M783.3 492.8 H853.5 M659.4 514.2 H756.8 M783.3 514.2 H880.9"/>
<path class="a" d="M686.8 492.8 l3.2 -1.15 v2.3z M853.5 492.8 l-3.2 -1.15 v2.3z M659.4 514.2 l3.2 -1.15 v2.3z M880.9 514.2 l-3.2 -1.15 v2.3z"/>
<text transform="translate(769.6,496) scale(.88,1)">1565</text>
<text transform="translate(769.8,517) scale(.88,1)">2081</text>

</svg>
</body></html>
